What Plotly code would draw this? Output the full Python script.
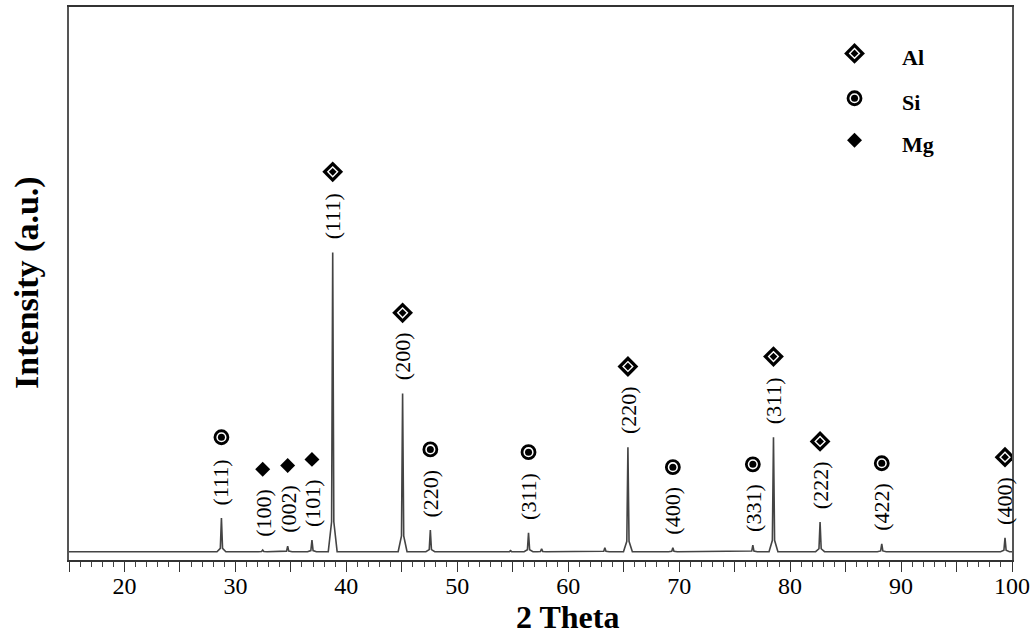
import plotly.graph_objects as go

# XRD pattern of the Al-Si-Mg sample: peak positions (2 theta, deg) and intensities (a.u.)
al_pos = [38.77, 45.07, 65.38, 78.50, 82.70, 99.37]
al_int = [556, 301, 204, 222, 68.5, 40]
al_hkl = ["(111)", "(200)", "(220)", "(311)", "(222)", "(400)"]

si_pos = [28.74, 47.57, 56.42, 69.43, 76.64, 88.26]
si_int = [76, 54, 49, 22, 27, 29]
si_hkl = ["(111)", "(220)", "(311)", "(400)", "(331)", "(422)"]

mg_pos = [32.46, 34.71, 36.90]
mg_int = [18, 25, 36]
mg_hkl = ["(100)", "(002)", "(101)"]

# small unindexed reflections
other_pos = [54.8, 57.6, 63.3]
other_int = [17, 20, 22]

background = 15
x_range = [15, 100]
y_range = [0, 1000]
x_ticks = [15, 20, 25, 30, 35, 40, 45, 50, 55, 60, 65, 70, 75, 80, 85, 90, 95, 100]
x_ticktext = ["", "20", "", "30", "", "40", "", "50", "", "60", "", "70", "", "80", "", "90", "", "100"]

legend_names = ["Al", "Si", "Mg"]

# page geometry
W, H = 1036, 637
margin = dict(l=69, r=24, t=5, b=77)
plot_h = H - margin["t"] - margin["b"]
px_per_unit = plot_h / (y_range[1] - y_range[0])

SERIF = "Liberation Serif, Times New Roman, serif"

# build the diffraction profile as narrow peaks on a flat background
peaks = sorted(zip(al_pos + si_pos + mg_pos + other_pos,
                   al_int + si_int + mg_int + other_int))
tt, inten = [x_range[0]], [background]
for p, h in peaks:
    shoulder = background + 0.1 * (h - background)
    tt += [p - 0.4, p - 0.1, p, p + 0.1, p + 0.4]
    inten += [background, shoulder, h, shoulder, background]
tt.append(x_range[1])
inten.append(background)

fig = go.Figure()
fig.add_trace(go.Scatter(x=tt, y=inten, mode="lines",
                         line=dict(color="#444444", width=1.6),
                         hoverinfo="skip", showlegend=False))


def phase_marker(fig, xs, ys, phase, xaxis="x", yaxis="y"):
    """Layered marker glyph for each phase."""
    common = dict(x=xs, y=ys, mode="markers", showlegend=False,
                  hoverinfo="skip", xaxis=xaxis, yaxis=yaxis)
    if phase == "Al":
        layers = [dict(symbol="diamond", size=16, color="black"),
                  dict(symbol="diamond", size=9, color="white"),
                  dict(symbol="diamond", size=6, color="black")]
    elif phase == "Si":
        layers = [dict(symbol="circle", size=13, color="white",
                       line=dict(color="black", width=2.8)),
                  dict(symbol="circle", size=7, color="black")]
    else:
        layers = [dict(symbol="diamond", size=11.5, color="black")]
    for m in layers:
        fig.add_trace(go.Scatter(marker=m, **common))


# peak labels (rotated hkl) and phase markers above each reflection
label_gap_px = 11
marker_gap_px = 81
annotations = []
for pos, ints, hkls, phase in [(al_pos, al_int, al_hkl, "Al"),
                               (si_pos, si_int, si_hkl, "Si"),
                               (mg_pos, mg_int, mg_hkl, "Mg")]:
    for p, h, t in zip(pos, ints, hkls):
        annotations.append(dict(x=p, y=h, xref="x", yref="y", text=t,
                                textangle=-90, showarrow=False,
                                xanchor="center", yanchor="bottom",
                                yshift=label_gap_px,
                                font=dict(family=SERIF, size=22, color="black")))
    phase_marker(fig, pos, [h + marker_gap_px / px_per_unit for h in ints], phase)

# key in the upper right corner, on an overlay axis spanning [0, 1]
key_x = 0.833
key_y = [0.916, 0.835, 0.759]
for name, ky in zip(legend_names, key_y):
    phase_marker(fig, [key_x], [ky], name, xaxis="x2", yaxis="y2")
    annotations.append(dict(x=0.881, y=ky - 0.007, xref="paper", yref="paper",
                            text="<b>%s</b>" % name, showarrow=False,
                            xanchor="left", yanchor="middle",
                            font=dict(family=SERIF, size=22, color="black")))

# axis titles
annotations.append(dict(x=0.5286, y=-0.103, xref="paper", yref="paper",
                        text="<b>2 Theta</b>", showarrow=False,
                        xanchor="center", yanchor="middle",
                        font=dict(family=SERIF, size=32, color="black")))
annotations.append(dict(x=-0.044, y=0.502, xref="paper", yref="paper",
                        text="<b>Intensity (a.u.)</b>", showarrow=False,
                        textangle=-90, xanchor="center", yanchor="middle",
                        font=dict(family=SERIF, size=34, color="black")))

fig.update_layout(
    width=W, height=H,
    margin=dict(l=margin["l"], r=margin["r"], t=margin["t"], b=margin["b"], pad=0),
    paper_bgcolor="white", plot_bgcolor="white",
    showlegend=False,
    annotations=annotations,
    xaxis=dict(range=x_range, tickmode="array", tickvals=x_ticks,
               ticktext=x_ticktext, ticks="outside", ticklen=10, tickwidth=1.3,
               tickcolor="#333", ticklabelstandoff=-7,
               minor=dict(dtick=1, ticks="outside", ticklen=5, tickwidth=1,
                          tickcolor="#444", showgrid=False),
               showline=True, linecolor="#333", linewidth=1.5, mirror=True,
               showgrid=False, zeroline=False,
               tickfont=dict(family=SERIF, size=24, color="black")),
    yaxis=dict(range=y_range, showticklabels=False, ticks="",
               showline=True, linecolor="#555", linewidth=1.5, mirror=True,
               showgrid=False, zeroline=False),
    xaxis2=dict(overlaying="x", range=[0, 1], visible=False, fixedrange=True),
    yaxis2=dict(overlaying="y", range=[0, 1], visible=False, fixedrange=True),
)

fig.write_html("out.html")
